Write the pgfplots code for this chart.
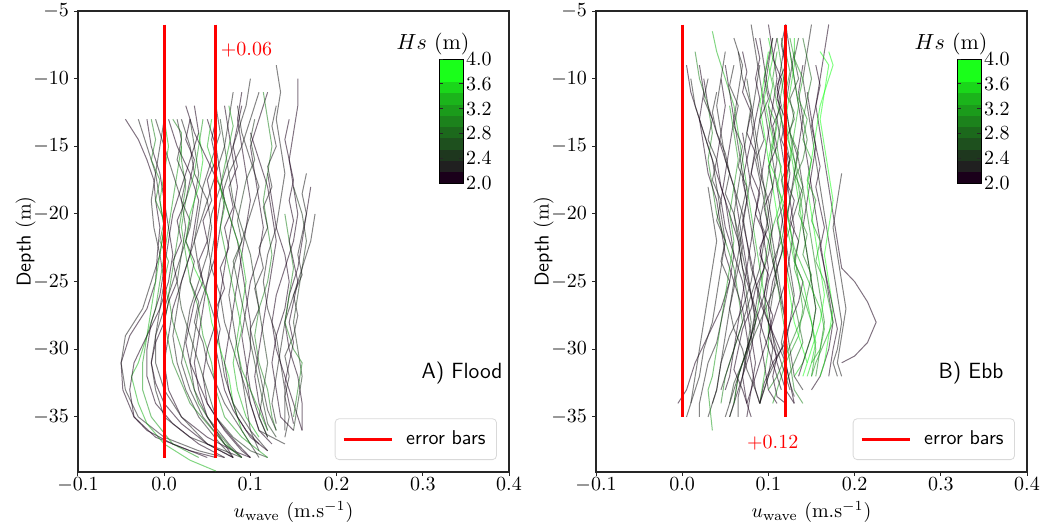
\documentclass[border=0pt]{standalone}
\usepackage{pgfplots}
\pgfplotsset{compat=1.18}
\definecolor{h20}{RGB}{26,0,26}
\definecolor{h22}{RGB}{32,32,32}
\definecolor{h24}{RGB}{30,55,30}
\definecolor{h26}{RGB}{30,80,30}
\definecolor{h28}{RGB}{28,105,28}
\definecolor{h30}{RGB}{28,130,28}
\definecolor{h32}{RGB}{27,155,27}
\definecolor{h34}{RGB}{27,180,27}
\definecolor{h36}{RGB}{26,215,26}
\definecolor{h38}{RGB}{26,255,26}
\newcommand{\prof}[2]{\addplot[#1, profile] coordinates {#2};}
\pgfplotsset{
  profile/.style={forget plot, line width=0.5pt, opacity=0.55},
  panel/.style={
    scale only axis, width=215.5pt, height=230.5pt,
    xmin=-0.1, xmax=0.4, ymin=-39.07, ymax=-5,
    xtick={-0.1,0,0.1,0.2,0.3,0.4}, ytick={-35,-30,-25,-20,-15,-10,-5},
    xticklabel style={/pgf/number format/fixed, /pgf/number format/fixed zerofill, /pgf/number format/precision=1, yshift=2.5pt},
    yticklabel style={xshift=1pt},
    tick align=outside, tick pos=left, major tick length=2pt,
    axis line style={line width=0.6pt, black!85},
    every tick/.style={black!85, line width=0.5pt},
    xlabel={$u_{\mathrm{wave}}$ $(\mathrm{m.s^{-1}})$},
    ylabel={\textsf{Depth} $(\mathrm{m})$},
    xlabel style={yshift=2.5pt},
    ylabel style={yshift=-8pt},
    colormap={hs}{rgb255=(26,0,26) rgb255=(32,32,32) rgb255=(30,55,30) rgb255=(30,80,30) rgb255=(28,105,28) rgb255=(28,130,28) rgb255=(27,155,27) rgb255=(27,180,27) rgb255=(26,215,26) rgb255=(26,255,26) rgb255=(26,255,26)},
    colormap access=piecewise constant,
    point meta min=2, point meta max=4,
    colorbar,
    colorbar style={
      scale only axis, width=12pt, height=62pt,
      at={(parent axis.north east)}, anchor=north east,
      xshift=-31.5pt, yshift=-24pt,
      ytick={2,2.4,2.8,3.2,3.6,4},
      yticklabel style={/pgf/number format/fixed, /pgf/number format/fixed zerofill, /pgf/number format/precision=1, xshift=-2pt},
      major tick length=2pt,
      axis line style={line width=0.5pt},
      title={$Hs$ $(\mathrm{m})$},
      title style={at={(0.5,1)}, anchor=south, xshift=-9pt, yshift=-4pt, inner sep=0pt, font=\fontsize{11}{13}\selectfont},
    },
    legend style={at={(0.972,0.026)}, anchor=south east, draw=black!15, rounded corners=2pt, font=\sffamily, inner xsep=3.5pt, inner ysep=4pt},
    legend image code/.code={\draw[#1] (0pt,0pt) -- (24pt,0pt); \path (28.5pt,0pt);},
    legend cell align=left,
  }
}
\begin{document}
\begin{tikzpicture}
\path[use as bounding box] (-39pt,-26.5pt) rectangle (483.5pt,236pt);
% ---------------- A) Flood ----------------
\begin{axis}[panel, at={(0,0)}]
\prof{h20}{(-0.045,-13) (-0.03,-14.5) (-0.02,-16) (-0.012,-17.5) (-0.01,-19) (-0.005,-21) (-0.008,-23) (-0.01,-25) (-0.02,-27) (-0.04,-29) (-0.05,-31) (-0.048,-33) (-0.035,-35) (-0.01,-36.5) (0.03,-37.5) (0.06,-38)}
\prof{h22}{(-0.03,-13) (-0.02,-15) (-0.01,-17) (-0.005,-19) (0.0,-21) (-0.005,-23) (-0.015,-25) (-0.025,-27) (-0.045,-29) (-0.05,-31) (-0.045,-33) (-0.03,-35) (0.0,-36.5) (0.04,-37.5) (0.07,-38)}
\prof{h34}{(0.0,-13) (0.005,-15) (0.0,-17) (-0.005,-19) (0.0,-21) (-0.005,-23) (-0.01,-25) (-0.015,-27) (-0.02,-29) (-0.03,-31) (-0.038,-32) (-0.03,-34) (-0.02,-35.5) (0.0,-37) (0.03,-38.2) (0.06,-39)}
\prof{h32}{(0.02,-15) (0.015,-17) (0.01,-19) (0.005,-21) (0.0,-23) (-0.005,-25) (-0.01,-27) (-0.02,-29) (-0.025,-31) (-0.025,-33) (-0.015,-35) (0.01,-37) (0.04,-38)}
\prof{h20}{(-0.02,-13) (-0.015,-15) (-0.005,-17) (0.0,-19) (0.005,-21) (0.01,-23) (0.005,-25) (-0.005,-27) (-0.02,-29) (-0.035,-31) (-0.04,-33) (-0.035,-35) (-0.02,-36) (0.01,-37) (0.05,-38)}
\prof{h22}{(-0.01,-13) (0.0,-15) (0.01,-17) (0.02,-19) (0.025,-21) (0.02,-23) (0.01,-25) (0.0,-27) (-0.01,-29) (-0.015,-31) (-0.01,-33) (0.0,-35) (0.03,-36.5) (0.07,-37.5) (0.09,-38)}
\prof{h20}{(0.005,-13) (0.015,-15) (0.03,-17) (0.04,-19) (0.035,-21) (0.03,-23) (0.02,-25) (0.01,-27) (0.005,-29) (0.0,-31) (0.005,-33) (0.02,-35) (0.05,-36.5) (0.08,-37.5) (0.1,-38)}
\prof{h30}{(0.01,-13) (0.02,-14) (0.02,-16) (0.025,-18) (0.02,-20) (0.015,-22) (0.01,-24) (0.005,-26) (0.01,-28) (0.02,-30) (0.03,-32) (0.04,-34) (0.06,-36) (0.08,-37.5)}
\prof{h22}{(0.02,-13) (0.03,-15) (0.035,-17) (0.05,-19) (0.055,-21) (0.05,-23) (0.04,-25) (0.03,-27) (0.025,-29) (0.02,-31) (0.03,-33) (0.045,-35) (0.07,-37) (0.09,-38)}
\prof{h24}{(0.03,-13) (0.035,-15) (0.04,-17) (0.035,-19) (0.03,-21) (0.02,-23) (0.015,-25) (0.02,-27) (0.03,-29) (0.04,-31) (0.05,-33) (0.06,-35) (0.08,-36.5) (0.1,-37.5) (0.12,-38)}
\prof{h32}{(0.045,-13) (0.04,-15) (0.035,-17) (0.025,-19) (0.02,-21) (0.025,-23) (0.03,-25) (0.04,-27) (0.045,-29) (0.055,-31) (0.06,-33) (0.07,-35) (0.09,-36.5) (0.12,-38)}
\prof{h20}{(0.05,-13) (0.06,-15) (0.065,-17) (0.07,-19) (0.065,-21) (0.06,-23) (0.05,-25) (0.045,-27) (0.04,-29) (0.035,-31) (0.04,-33) (0.05,-35) (0.07,-37) (0.08,-38)}
\prof{h22}{(0.06,-12) (0.065,-14) (0.055,-16) (0.045,-18) (0.04,-20) (0.035,-22) (0.04,-24) (0.05,-26) (0.06,-28) (0.065,-30) (0.07,-32) (0.08,-34) (0.1,-36) (0.12,-37.5)}
\prof{h20}{(0.07,-12) (0.075,-14) (0.08,-16) (0.085,-18) (0.08,-20) (0.075,-22) (0.07,-24) (0.065,-26) (0.06,-28) (0.05,-30) (0.045,-32) (0.05,-34) (0.07,-36) (0.09,-37.5) (0.1,-38)}
\prof{h36}{(0.04,-14) (0.045,-16) (0.04,-18) (0.03,-20) (0.025,-22) (0.035,-24) (0.05,-26) (0.055,-28) (0.065,-30) (0.075,-32) (0.08,-34) (0.09,-36) (0.1,-37)}
\prof{h22}{(0.08,-11) (0.075,-13) (0.07,-15) (0.06,-17) (0.05,-19) (0.04,-21) (0.03,-23) (0.02,-25) (0.015,-27) (0.01,-29) (0.015,-31) (0.025,-33) (0.04,-35) (0.065,-37) (0.08,-38)}
\prof{h20}{(0.09,-11) (0.085,-13) (0.09,-15) (0.095,-17) (0.1,-19) (0.095,-21) (0.09,-23) (0.085,-25) (0.08,-27) (0.075,-29) (0.07,-31) (0.075,-33) (0.085,-35) (0.1,-36.5) (0.12,-37.5)}
\prof{h22}{(0.1,-10) (0.095,-12) (0.085,-14) (0.075,-16) (0.065,-18) (0.055,-20) (0.05,-22) (0.055,-24) (0.065,-26) (0.07,-28) (0.08,-30) (0.09,-32) (0.1,-34) (0.11,-36) (0.14,-37)}
\prof{h20}{(0.12,-11) (0.11,-13) (0.1,-15) (0.105,-17) (0.11,-19) (0.115,-21) (0.11,-23) (0.1,-25) (0.095,-27) (0.09,-29) (0.095,-31) (0.1,-33) (0.11,-35) (0.12,-36.5)}
\prof{h30}{(0.115,-11) (0.12,-13) (0.125,-15) (0.12,-17) (0.115,-19) (0.12,-21) (0.125,-23) (0.12,-25) (0.11,-27) (0.105,-29) (0.11,-31) (0.12,-33) (0.125,-35) (0.13,-36)}
\prof{h22}{(0.13,-9) (0.135,-11) (0.13,-13) (0.135,-15) (0.14,-17) (0.135,-19) (0.13,-21) (0.12,-23) (0.115,-25) (0.12,-27) (0.13,-29) (0.135,-31) (0.14,-33) (0.14,-35) (0.14,-36)}
\prof{h20}{(0.155,-10) (0.155,-12) (0.15,-14) (0.145,-16) (0.15,-18) (0.155,-20) (0.15,-22) (0.14,-24) (0.13,-26) (0.125,-28) (0.13,-30) (0.14,-32) (0.15,-34) (0.16,-36)}
\prof{h24}{(0.15,-18) (0.16,-20) (0.165,-22) (0.16,-24) (0.155,-26) (0.15,-28) (0.155,-30) (0.16,-32) (0.155,-34) (0.15,-36)}
\prof{h20}{(0.17,-18) (0.165,-20) (0.16,-22) (0.155,-24) (0.145,-26) (0.14,-28) (0.145,-30) (0.155,-32) (0.16,-34) (0.16,-36)}
\prof{h22}{(0.175,-20) (0.17,-22) (0.16,-24) (0.15,-26) (0.14,-28) (0.135,-30) (0.13,-32) (0.125,-34) (0.13,-35.5)}
\prof{h30}{(0.14,-20) (0.145,-22) (0.15,-24) (0.145,-26) (0.14,-28) (0.15,-30) (0.16,-31) (0.155,-33) (0.15,-35)}
\prof{h20}{(0.12,-17) (0.125,-19) (0.13,-21) (0.14,-23) (0.145,-25) (0.14,-27) (0.13,-29) (0.125,-31) (0.13,-33) (0.135,-35) (0.15,-36)}
\prof{h22}{(0.11,-11) (0.1,-13) (0.09,-15) (0.075,-17) (0.065,-19) (0.06,-21) (0.055,-23) (0.05,-25) (0.04,-27) (0.035,-29) (0.03,-31) (0.035,-33) (0.05,-35) (0.075,-37) (0.09,-38)}
\prof{h20}{(0.025,-12) (0.035,-14) (0.05,-16) (0.065,-18) (0.075,-20) (0.085,-22) (0.09,-24) (0.095,-26) (0.1,-28) (0.1,-30) (0.095,-32) (0.1,-34) (0.11,-36) (0.125,-37)}
\prof{h34}{(0.055,-13) (0.05,-15) (0.06,-17) (0.07,-19) (0.08,-21) (0.09,-23) (0.095,-25) (0.09,-27) (0.085,-29) (0.08,-31) (0.085,-33) (0.095,-35) (0.11,-36.5)}
\prof{h22}{(0.0,-13) (-0.005,-15) (-0.01,-17) (-0.015,-19) (-0.012,-21) (-0.005,-23) (0.0,-25) (-0.005,-27) (-0.01,-29) (-0.01,-31) (0.0,-33) (0.02,-35) (0.05,-37) (0.08,-38)}
\prof{h20}{(0.035,-12) (0.04,-14) (0.03,-16) (0.02,-18) (0.01,-20) (0.005,-22) (0.0,-24) (-0.005,-26) (-0.015,-28) (-0.02,-30) (-0.02,-32) (-0.01,-34) (0.01,-35.5) (0.04,-37) (0.07,-38)}
\prof{h24}{(0.065,-13) (0.07,-15) (0.075,-17) (0.08,-19) (0.09,-21) (0.1,-23) (0.105,-25) (0.11,-27) (0.115,-29) (0.12,-31) (0.115,-33) (0.11,-35) (0.12,-36.5)}
\prof{h20}{(0.1,-14) (0.11,-16) (0.12,-18) (0.125,-20) (0.13,-22) (0.125,-24) (0.12,-26) (0.115,-28) (0.11,-30) (0.105,-32) (0.11,-34) (0.12,-36)}
\prof{h22}{(0.085,-12) (0.09,-14) (0.1,-16) (0.11,-18) (0.1,-20) (0.09,-22) (0.08,-24) (0.075,-26) (0.08,-28) (0.085,-30) (0.09,-32) (0.095,-34) (0.1,-36) (0.11,-37.5)}
\prof{h20}{(0.06,-13) (0.055,-14.5) (0.06,-16) (0.05,-17.5) (0.055,-19) (0.045,-20.5) (0.05,-22) (0.04,-23.5) (0.045,-25) (0.035,-26.5) (0.03,-28) (0.025,-29.5) (0.03,-31) (0.04,-32.5) (0.05,-34) (0.065,-35.5) (0.085,-37) (0.1,-38)}
\prof{h22}{(0.015,-13) (0.02,-14.5) (0.015,-16) (0.025,-17.5) (0.02,-19) (0.03,-20.5) (0.025,-22) (0.035,-23.5) (0.03,-25) (0.04,-26.5) (0.035,-28) (0.045,-29.5) (0.05,-31) (0.06,-32.5) (0.07,-34) (0.085,-35.5) (0.1,-37) (0.11,-38)}
\prof{h30}{(-0.015,-13) (-0.01,-14.5) (-0.015,-16) (-0.005,-17.5) (-0.01,-19) (0.0,-20.5) (-0.005,-22) (0.005,-23.5) (0.0,-25) (0.005,-26.5) (0.0,-28) (0.005,-29.5) (0.01,-31) (0.02,-32.5) (0.03,-34) (0.05,-35.5) (0.07,-37) (0.09,-38)}
\prof{h20}{(0.09,-12) (0.085,-13.5) (0.08,-15) (0.085,-16.5) (0.075,-18) (0.08,-19.5) (0.07,-21) (0.075,-22.5) (0.065,-24) (0.07,-25.5) (0.06,-27) (0.065,-28.5) (0.06,-30) (0.065,-31.5) (0.07,-33) (0.08,-34.5) (0.095,-36) (0.11,-37)}
\prof{h22}{(0.13,-12) (0.125,-13.5) (0.13,-15) (0.12,-16.5) (0.125,-18) (0.115,-19.5) (0.12,-21) (0.11,-22.5) (0.115,-24) (0.105,-25.5) (0.11,-27) (0.1,-28.5) (0.105,-30) (0.11,-31.5) (0.115,-33) (0.12,-34.5) (0.13,-36)}
\prof{h20}{(0.145,-13) (0.14,-14.5) (0.145,-16) (0.15,-17.5) (0.145,-19) (0.15,-20.5) (0.145,-22) (0.15,-23.5) (0.155,-25) (0.15,-26.5) (0.145,-28) (0.15,-29.5) (0.145,-31) (0.14,-32.5) (0.145,-34) (0.15,-35.5)}
\prof{h24}{(0.105,-13) (0.1,-14.5) (0.105,-16) (0.095,-17.5) (0.09,-19) (0.085,-20.5) (0.09,-22) (0.08,-23.5) (0.085,-25) (0.09,-26.5) (0.095,-28) (0.1,-29.5) (0.105,-31) (0.11,-32.5) (0.115,-34) (0.12,-35.5) (0.13,-36.5)}
\prof{h20}{(0.03,-13) (0.025,-14.5) (0.035,-16) (0.03,-17.5) (0.025,-19) (0.015,-20.5) (0.02,-22) (0.01,-23.5) (0.015,-25) (0.005,-26.5) (0.0,-28) (-0.01,-29.5) (-0.015,-31) (-0.01,-32.5) (0.0,-34) (0.02,-35.5) (0.05,-37) (0.08,-38)}
\prof{h32}{(0.075,-12) (0.08,-13.5) (0.075,-15) (0.07,-16.5) (0.065,-18) (0.07,-19.5) (0.065,-21) (0.07,-22.5) (0.075,-24) (0.08,-25.5) (0.085,-27) (0.09,-28.5) (0.085,-30) (0.09,-31.5) (0.1,-33) (0.11,-34.5) (0.12,-36)}
\prof{h22}{(0.165,-17) (0.16,-18.5) (0.165,-20) (0.16,-21.5) (0.155,-23) (0.16,-24.5) (0.15,-26) (0.155,-27.5) (0.15,-29) (0.14,-30.5) (0.145,-32) (0.14,-33.5) (0.145,-35) (0.14,-36.5)}
\addplot[red, line width=1.5pt] coordinates {(0,-6) (0,-38)};
\addlegendentry{error bars}
\addplot[red, line width=1.5pt, forget plot] coordinates {(0.06,-6) (0.06,-38)};
\node[red, anchor=west, inner sep=1pt] at (axis cs:0.063,-7.9) {$+0.06$};
\node[font=\sffamily\fontsize{11}{13}\selectfont, anchor=center] at (rel axis cs:0.891,0.215) {A) Flood};
\end{axis}
% ---------------- B) Ebb ----------------
\begin{axis}[panel, at={(259pt,0)}]
\prof{h20}{(0.005,-9) (0.01,-11) (0.02,-13) (0.03,-15) (0.04,-17) (0.05,-19) (0.055,-21) (0.06,-23) (0.055,-25) (0.045,-27) (0.03,-29) (0.015,-31) (0.005,-33) (-0.005,-34)}
\prof{h22}{(0.01,-10) (0.015,-12) (0.025,-14) (0.035,-16) (0.04,-18) (0.045,-20) (0.05,-22) (0.045,-24) (0.04,-26) (0.035,-28) (0.025,-30) (0.02,-32) (0.01,-34) (0.005,-35)}
\prof{h30}{(0.015,-8) (0.02,-10) (0.03,-12) (0.035,-14) (0.03,-16) (0.035,-18) (0.04,-20) (0.05,-22) (0.06,-24) (0.065,-26) (0.07,-28) (0.06,-30) (0.05,-32) (0.045,-34)}
\prof{h20}{(0.025,-10) (0.03,-12) (0.04,-14) (0.05,-16) (0.06,-18) (0.065,-20) (0.07,-22) (0.075,-24) (0.08,-26) (0.085,-28) (0.08,-30) (0.07,-32) (0.06,-34) (0.055,-35)}
\prof{h34}{(0.035,-6.5) (0.04,-8) (0.05,-10) (0.06,-12) (0.065,-14) (0.07,-16) (0.075,-18) (0.08,-20) (0.085,-22) (0.09,-24) (0.095,-26) (0.1,-28) (0.1,-30) (0.095,-32) (0.09,-34)}
\prof{h22}{(0.06,-7) (0.065,-8) (0.07,-9) (0.065,-11) (0.06,-13) (0.065,-15) (0.07,-17) (0.075,-19) (0.08,-21) (0.085,-23) (0.08,-25) (0.07,-27) (0.055,-29) (0.045,-31) (0.04,-33) (0.035,-34)}
\prof{h20}{(0.05,-9) (0.055,-11) (0.06,-13) (0.055,-15) (0.05,-17) (0.045,-19) (0.05,-21) (0.06,-23) (0.07,-25) (0.075,-27) (0.08,-29) (0.085,-31) (0.08,-33) (0.075,-35)}
\prof{h22}{(0.08,-6) (0.085,-8) (0.09,-10) (0.095,-12) (0.1,-14) (0.105,-16) (0.11,-18) (0.115,-20) (0.12,-22) (0.125,-24) (0.13,-26) (0.125,-28) (0.115,-30) (0.1,-32) (0.09,-34)}
\prof{h20}{(0.1,-6) (0.105,-8) (0.11,-10) (0.105,-12) (0.1,-14) (0.095,-16) (0.09,-18) (0.085,-20) (0.08,-22) (0.075,-24) (0.07,-26) (0.065,-28) (0.06,-30) (0.055,-32) (0.05,-33)}
\prof{h32}{(0.11,-7) (0.115,-9) (0.12,-11) (0.115,-13) (0.11,-15) (0.115,-17) (0.12,-19) (0.125,-21) (0.13,-23) (0.135,-25) (0.14,-27) (0.135,-29) (0.12,-31) (0.11,-33) (0.105,-34)}
\prof{h20}{(0.12,-6) (0.125,-8) (0.13,-10) (0.135,-12) (0.14,-14) (0.145,-16) (0.15,-18) (0.155,-20) (0.16,-22) (0.165,-24) (0.17,-26) (0.175,-28) (0.17,-30) (0.16,-32) (0.15,-33)}
\prof{h36}{(0.13,-7) (0.13,-9) (0.125,-11) (0.12,-13) (0.125,-15) (0.13,-17) (0.135,-19) (0.14,-21) (0.145,-23) (0.15,-25) (0.155,-27) (0.15,-29) (0.14,-31) (0.13,-32)}
\prof{h22}{(0.15,-6) (0.145,-8) (0.14,-10) (0.145,-12) (0.15,-14) (0.155,-16) (0.16,-18) (0.165,-20) (0.17,-22) (0.175,-24) (0.18,-26) (0.185,-28) (0.18,-30) (0.175,-31) (0.18,-32)}
\prof{h20}{(0.17,-6) (0.165,-8) (0.16,-10) (0.155,-12) (0.16,-14) (0.165,-16) (0.17,-18) (0.175,-20) (0.18,-22) (0.185,-24) (0.2,-25) (0.215,-26.5) (0.225,-28) (0.215,-29.5) (0.2,-30.5) (0.185,-31)}
\prof{h38}{(0.16,-8) (0.17,-9) (0.165,-11) (0.16,-13) (0.165,-15) (0.17,-17) (0.175,-19) (0.17,-21) (0.165,-23) (0.17,-25) (0.175,-27) (0.17,-29) (0.165,-31) (0.16,-32)}
\prof{h22}{(0.185,-17) (0.18,-19) (0.175,-21) (0.18,-23) (0.185,-25) (0.19,-27) (0.185,-29) (0.18,-31) (0.185,-32)}
\prof{h20}{(0.09,-7) (0.095,-9) (0.1,-11) (0.11,-13) (0.115,-15) (0.12,-17) (0.125,-19) (0.13,-21) (0.125,-23) (0.12,-25) (0.11,-27) (0.1,-29) (0.09,-31) (0.08,-33) (0.075,-34)}
\prof{h22}{(0.105,-7) (0.1,-9) (0.095,-11) (0.09,-13) (0.085,-15) (0.08,-17) (0.075,-19) (0.07,-21) (0.065,-23) (0.06,-25) (0.055,-27) (0.05,-29) (0.045,-31) (0.04,-33) (0.03,-35)}
\prof{h30}{(0.115,-7) (0.12,-9) (0.115,-11) (0.11,-13) (0.105,-15) (0.1,-17) (0.095,-19) (0.1,-21) (0.105,-23) (0.11,-25) (0.115,-27) (0.12,-29) (0.125,-31) (0.13,-33) (0.14,-34)}
\prof{h20}{(0.12,-7) (0.115,-9) (0.11,-11) (0.115,-13) (0.12,-15) (0.125,-17) (0.12,-19) (0.115,-21) (0.11,-23) (0.1,-25) (0.095,-27) (0.09,-29) (0.095,-31) (0.1,-33) (0.11,-34)}
\prof{h34}{(0.125,-8) (0.13,-10) (0.135,-12) (0.13,-14) (0.125,-16) (0.12,-18) (0.11,-20) (0.1,-22) (0.095,-24) (0.09,-26) (0.085,-28) (0.075,-30) (0.065,-32) (0.06,-34)}
\prof{h22}{(0.065,-8) (0.07,-10) (0.08,-12) (0.085,-14) (0.09,-16) (0.095,-18) (0.1,-20) (0.105,-22) (0.11,-24) (0.115,-26) (0.12,-28) (0.125,-30) (0.13,-32) (0.14,-33)}
\prof{h38}{(0.1,-8) (0.095,-10) (0.09,-12) (0.095,-14) (0.1,-16) (0.105,-18) (0.11,-20) (0.115,-22) (0.12,-24) (0.125,-26) (0.13,-28) (0.14,-30) (0.145,-31)}
\prof{h20}{(0.02,-9) (0.025,-11) (0.02,-13) (0.025,-15) (0.03,-17) (0.04,-19) (0.045,-21) (0.05,-23) (0.06,-25) (0.07,-27) (0.075,-29) (0.08,-31) (0.085,-33) (0.09,-34)}
\prof{h22}{(0.03,-18) (0.035,-20) (0.04,-22) (0.035,-24) (0.03,-26) (0.025,-28) (0.02,-30) (0.015,-32) (0.01,-34)}
\prof{h24}{(0.075,-10) (0.08,-12) (0.075,-14) (0.07,-16) (0.065,-18) (0.06,-20) (0.065,-22) (0.07,-24) (0.075,-26) (0.08,-28) (0.075,-30) (0.065,-32) (0.06,-34) (0.055,-35)}
\prof{h20}{(0.14,-9) (0.135,-11) (0.14,-13) (0.135,-15) (0.13,-17) (0.125,-19) (0.12,-21) (0.115,-23) (0.105,-25) (0.1,-27) (0.105,-29) (0.11,-31) (0.12,-33) (0.13,-34)}
\prof{h32}{(0.11,-8) (0.105,-10) (0.11,-12) (0.12,-14) (0.13,-16) (0.135,-18) (0.14,-20) (0.135,-22) (0.13,-24) (0.14,-26) (0.15,-28) (0.155,-30) (0.15,-32)}
\prof{h22}{(0.09,-9) (0.085,-11) (0.08,-13) (0.085,-15) (0.09,-17) (0.1,-19) (0.105,-21) (0.1,-23) (0.09,-25) (0.085,-27) (0.08,-29) (0.07,-31) (0.06,-33) (0.05,-35)}
\prof{h20}{(0.045,-10) (0.05,-12) (0.045,-14) (0.04,-16) (0.045,-18) (0.055,-20) (0.065,-22) (0.07,-24) (0.08,-26) (0.09,-28) (0.1,-30) (0.11,-32) (0.115,-33)}
\prof{h30}{(0.115,-10) (0.12,-12) (0.125,-14) (0.13,-16) (0.14,-18) (0.145,-20) (0.15,-22) (0.155,-24) (0.16,-26) (0.165,-28) (0.16,-30) (0.155,-32)}
\prof{h22}{(0.13,-8) (0.125,-10) (0.12,-12) (0.125,-14) (0.135,-16) (0.14,-18) (0.13,-20) (0.12,-22) (0.11,-24) (0.105,-26) (0.1,-28) (0.11,-30) (0.12,-32) (0.125,-33)}
\prof{h32}{(0.055,-12) (0.06,-14) (0.065,-16) (0.06,-18) (0.055,-20) (0.06,-22) (0.055,-24) (0.05,-26) (0.045,-28) (0.04,-30) (0.035,-32) (0.03,-33) (0.035,-36)}
\prof{h20}{(0.07,-14) (0.075,-16) (0.08,-18) (0.09,-20) (0.095,-22) (0.1,-24) (0.095,-26) (0.085,-28) (0.075,-30) (0.07,-32) (0.075,-34) (0.08,-35)}
\prof{h22}{(0.1,-12) (0.105,-14) (0.11,-16) (0.105,-18) (0.1,-20) (0.095,-22) (0.09,-24) (0.08,-26) (0.07,-28) (0.06,-30) (0.05,-32) (0.045,-33)}
\prof{h20}{(0.145,-11) (0.15,-13) (0.155,-15) (0.15,-17) (0.145,-19) (0.14,-21) (0.145,-23) (0.15,-25) (0.155,-27) (0.15,-29) (0.14,-31) (0.135,-32)}
\prof{h38}{(0.17,-8) (0.175,-9) (0.17,-10) (0.16,-12) (0.155,-14) (0.15,-16) (0.145,-18) (0.15,-20) (0.155,-22) (0.16,-24) (0.165,-26) (0.16,-28) (0.15,-30) (0.14,-32)}
\prof{h22}{(0.05,-8) (0.045,-10) (0.04,-12) (0.045,-14) (0.05,-16) (0.06,-18) (0.07,-20) (0.075,-22) (0.08,-24) (0.09,-26) (0.1,-28) (0.105,-30) (0.1,-32) (0.09,-34)}
\prof{h20}{(0.11,-7) (0.105,-8.5) (0.115,-10) (0.11,-11.5) (0.12,-13) (0.115,-14.5) (0.125,-16) (0.12,-17.5) (0.13,-19) (0.125,-20.5) (0.135,-22) (0.13,-23.5) (0.14,-25) (0.135,-26.5) (0.125,-28) (0.12,-29.5) (0.105,-31) (0.095,-32.5) (0.09,-34)}
\prof{h22}{(0.105,-7) (0.1,-8.5) (0.095,-10) (0.1,-11.5) (0.09,-13) (0.095,-14.5) (0.085,-16) (0.09,-17.5) (0.095,-19) (0.09,-20.5) (0.1,-22) (0.105,-23.5) (0.11,-25) (0.115,-26.5) (0.12,-28) (0.115,-29.5) (0.12,-31) (0.125,-32.5) (0.13,-33.5)}
\prof{h30}{(0.12,-8) (0.125,-9.5) (0.12,-11) (0.13,-12.5) (0.125,-14) (0.135,-15.5) (0.13,-17) (0.14,-18.5) (0.135,-20) (0.145,-21.5) (0.14,-23) (0.15,-24.5) (0.145,-26) (0.14,-27.5) (0.13,-29) (0.12,-30.5) (0.11,-32) (0.1,-33)}
\prof{h20}{(0.07,-8) (0.075,-9.5) (0.07,-11) (0.08,-12.5) (0.075,-14) (0.085,-15.5) (0.08,-17) (0.09,-18.5) (0.085,-20) (0.095,-21.5) (0.09,-23) (0.1,-24.5) (0.095,-26) (0.105,-27.5) (0.1,-29) (0.11,-30.5) (0.105,-32) (0.11,-33.5) (0.12,-34)}
\prof{h24}{(0.135,-7) (0.13,-8.5) (0.135,-10) (0.125,-11.5) (0.13,-13) (0.12,-14.5) (0.125,-16) (0.115,-17.5) (0.12,-19) (0.11,-20.5) (0.115,-22) (0.105,-23.5) (0.11,-25) (0.1,-26.5) (0.09,-28) (0.08,-29.5) (0.07,-31) (0.06,-32.5) (0.055,-34)}
\prof{h34}{(0.1,-9) (0.105,-10.5) (0.1,-12) (0.11,-13.5) (0.105,-15) (0.115,-16.5) (0.11,-18) (0.12,-19.5) (0.125,-21) (0.13,-22.5) (0.14,-24) (0.15,-25.5) (0.16,-27) (0.165,-28.5) (0.16,-30) (0.15,-31)}
\prof{h22}{(0.03,-10) (0.025,-11.5) (0.035,-13) (0.03,-14.5) (0.04,-16) (0.035,-17.5) (0.045,-19) (0.04,-20.5) (0.05,-22) (0.045,-23.5) (0.055,-25) (0.05,-26.5) (0.045,-28) (0.04,-29.5) (0.03,-31) (0.025,-32.5) (0.02,-34) (0.02,-35)}
\prof{h20}{(0.12,-6) (0.115,-7.5) (0.12,-9) (0.11,-10.5) (0.115,-12) (0.105,-13.5) (0.11,-15) (0.1,-16.5) (0.105,-18) (0.095,-19.5) (0.1,-21) (0.09,-22.5) (0.095,-24) (0.085,-25.5) (0.08,-27) (0.07,-28.5) (0.065,-30) (0.06,-31.5) (0.07,-33) (0.075,-34)}
\prof{h32}{(0.125,-7) (0.13,-8.5) (0.14,-10) (0.135,-11.5) (0.145,-13) (0.14,-14.5) (0.15,-16) (0.145,-17.5) (0.155,-19) (0.15,-20.5) (0.16,-22) (0.155,-23.5) (0.165,-25) (0.17,-26.5) (0.175,-28) (0.165,-29.5) (0.155,-31) (0.15,-32)}
\prof{h20}{(0.085,-7) (0.09,-8.5) (0.085,-10) (0.09,-11.5) (0.085,-13) (0.08,-14.5) (0.075,-16) (0.07,-17.5) (0.075,-19) (0.07,-20.5) (0.075,-22) (0.08,-23.5) (0.085,-25) (0.09,-26.5) (0.1,-28) (0.11,-29.5) (0.12,-31) (0.125,-32.5) (0.13,-34)}
\prof{h22}{(0.06,-9) (0.055,-10.5) (0.065,-12) (0.06,-13.5) (0.07,-15) (0.065,-16.5) (0.075,-18) (0.07,-19.5) (0.065,-21) (0.07,-22.5) (0.065,-24) (0.06,-25.5) (0.055,-27) (0.06,-28.5) (0.07,-30) (0.075,-31.5) (0.085,-33) (0.09,-34)}
\prof{h28}{(0.14,-7) (0.145,-8.5) (0.15,-10) (0.145,-11.5) (0.14,-13) (0.145,-14.5) (0.14,-16) (0.13,-17.5) (0.125,-19) (0.12,-20.5) (0.115,-22) (0.12,-23.5) (0.125,-25) (0.13,-26.5) (0.135,-28) (0.14,-29.5) (0.13,-31) (0.12,-32.5)}
\prof{h20}{(0.155,-9) (0.16,-10.5) (0.155,-12) (0.15,-13.5) (0.155,-15) (0.16,-16.5) (0.155,-18) (0.16,-19.5) (0.165,-21) (0.16,-22.5) (0.165,-24) (0.17,-25.5) (0.175,-27) (0.18,-28.5) (0.175,-30) (0.17,-32)}
\prof{h36}{(0.1,-7) (0.105,-8.5) (0.1,-10) (0.095,-11.5) (0.1,-13) (0.105,-14.5) (0.1,-16) (0.11,-17.5) (0.115,-19) (0.12,-20.5) (0.125,-22) (0.13,-23.5) (0.14,-25) (0.145,-26.5) (0.15,-28) (0.155,-29.5) (0.15,-31) (0.145,-32)}
\prof{h22}{(0.04,-11) (0.035,-12.5) (0.04,-14) (0.05,-15.5) (0.055,-17) (0.05,-18.5) (0.06,-20) (0.065,-21.5) (0.07,-23) (0.075,-24.5) (0.08,-26) (0.085,-27.5) (0.08,-29) (0.075,-30.5) (0.07,-32) (0.065,-33.5) (0.065,-35)}
\addplot[red, line width=1.5pt] coordinates {(0,-6) (0,-35)};
\addlegendentry{error bars}
\addplot[red, line width=1.5pt, forget plot] coordinates {(0.12,-6) (0.12,-35)};
\node[red, anchor=center] at (axis cs:0.105,-36.9) {$+0.12$};
\node[font=\sffamily\fontsize{11}{13}\selectfont, anchor=center] at (rel axis cs:0.87,0.215) {B) Ebb};
\end{axis}
\end{tikzpicture}
\end{document}
